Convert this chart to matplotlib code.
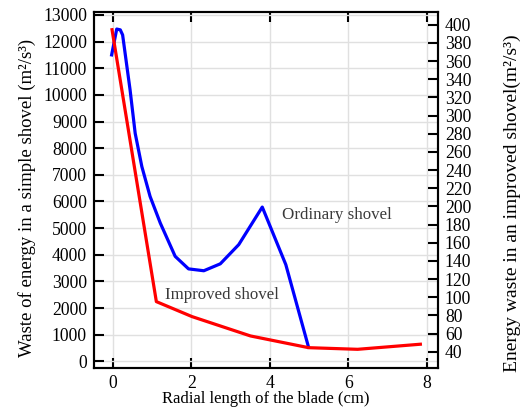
import matplotlib
matplotlib.use('Agg')
import matplotlib.pyplot as plt
import numpy as np

plt.rcParams['font.family'] = ['Liberation Serif', 'DejaVu Serif']

# ordinary shovel (left axis)
ord_x = [-0.03, 0.10, 0.19, 0.25, 0.44, 0.57, 0.74, 0.95, 1.21, 1.59, 1.93, 2.32, 2.74, 3.21, 3.81, 4.41, 4.99]
ord_y = [11500, 12470, 12440, 12250, 10190, 8560, 7310, 6190, 5190, 3940, 3470, 3400, 3660, 4380, 5790, 3630, 530]

# improved shovel (right axis)
imp_x = [-0.02, 1.11, 2.02, 3.51, 4.99, 6.24, 7.84]
imp_y = [394.5, 95.1, 78.6, 57.3, 44.4, 42.6, 48.2]

xticks = [0, 2, 4, 6, 8]
left_ticks = np.arange(0, 13001, 1000)
right_ticks = np.arange(40, 401, 20)

fig = plt.figure(figsize=(5.23, 4.08), dpi=100)
ax = fig.add_axes([0.1797, 0.098, 0.6578, 0.8726])
ax2 = ax.twinx()

ax.set_xlim(-0.48, 8.29)
ax.set_ylim(-250, 13110)
ax2.set_ylim(22, 414)

ax.set_xticks(xticks)
ax.set_yticks(left_ticks)
ax2.set_yticks(right_ticks)
ax.grid(True, color='#e0e0e0', linewidth=1.0)
ax.set_axisbelow(True)

ax.plot(ord_x, ord_y, color='#0000ff', linewidth=2.3, solid_joinstyle='round')
ax2.plot(imp_x, imp_y, color='#ff0000', linewidth=2.3, solid_joinstyle='round')

ax.text(4.32, 5500, 'Ordinary shovel', fontsize=12.2, color='#3a3a3a', va='center', ha='left')
ax.text(1.34, 2500, 'Improved shovel', fontsize=12.2, color='#3a3a3a', va='center', ha='left')

ax.tick_params(axis='both', direction='in', length=7, width=1.5, labelsize=12.7, pad=5,
               top=True, right=False)
ax.tick_params(axis='x', pad=5)
ax2.tick_params(axis='y', direction='in', length=7, width=1.5, labelsize=12.7, pad=5)
for a in (ax, ax2):
    for s in a.spines.values():
        s.set_linewidth(1.5)

ax.set_xlabel('Radial length of the blade (cm)', fontsize=12)
ax.set_ylabel('Waste of energy in a simple shovel (m²/s³)', fontsize=13.5)
ax2.set_ylabel('Energy waste in an improved shovel(m²/s³)', fontsize=14)
ax.xaxis.set_label_coords(0.5, -0.064)
ax.yaxis.set_label_coords(-0.169, 0.4775)
ax2.yaxis.set_label_coords(1.19, 0.462)

fig.savefig('out.png', dpi=100)
